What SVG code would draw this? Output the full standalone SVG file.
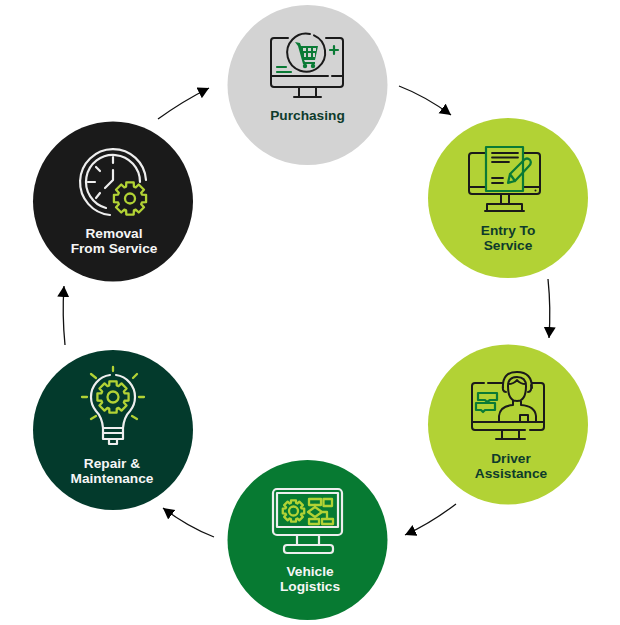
<svg xmlns="http://www.w3.org/2000/svg" width="620" height="625" viewBox="0 0 620 625">
<style>
.lbl{font-family:"Liberation Sans",Arial,sans-serif;font-weight:700;font-size:13.7px;text-anchor:middle}
.dk{fill:#0e3b2c}.wh{fill:#f6f6f6}
.k,.g,.w,.l{fill:none;stroke-linecap:round;stroke-linejoin:round}
.k{stroke:#1a1a1a;stroke-width:2}.g{stroke:#0a7a35;stroke-width:2.2}.w{stroke:#eeeeee;stroke-width:2.2}.l{stroke:#b2d235;stroke-width:2.3}
.conn{fill:none;stroke:#111;stroke-width:1.3}
</style>
<defs>
<marker id="arr" markerUnits="userSpaceOnUse" markerWidth="13" markerHeight="13" refX="11" refY="6" orient="auto"><path d="M0 0L11 6L0 12z" fill="#000"/></marker>
<path id="gear" vector-effect="non-scaling-stroke" d="M7.23-2.35L9.74-2.25L9.74 2.25L7.23 2.35L6.77 3.45L8.48 5.30L5.30 8.48L3.45 6.77L2.35 7.23L2.25 9.74L-2.25 9.74L-2.35 7.23L-3.45 6.77L-5.30 8.48L-8.48 5.30L-6.77 3.45L-7.23 2.35L-9.74 2.25L-9.74-2.25L-7.23-2.35L-6.77-3.45L-8.48-5.30L-5.30-8.48L-3.45-6.77L-2.35-7.23L-2.25-9.74L2.25-9.74L2.35-7.23L3.45-6.77L5.30-8.48L8.48-5.30L6.77-3.45z"/>
</defs>
<rect width="620" height="625" fill="#ffffff"/>
<g id="connectors">
<path class="conn" marker-end="url(#arr)" d="M399 86Q425 96 451 115"/>
<path class="conn" marker-end="url(#arr)" d="M548 279Q551 308 549 338"/>
<path class="conn" marker-end="url(#arr)" d="M456 504Q431 523 405 535"/>
<path class="conn" marker-end="url(#arr)" d="M214 537Q188 527 163 508"/>
<path class="conn" marker-end="url(#arr)" d="M65 345Q62 315 64 286"/>
<path class="conn" marker-end="url(#arr)" d="M158 119Q183 101 209 88"/>
</g>
<g id="purchasing">
<circle cx="307.500" cy="85" r="80" fill="#d3d3d3"/>
<path class="k" d="M288 38H274Q271 38 271 41V84Q271 87 274 87H340Q343 87 343 84V41Q343 38 340 38H326M271 76H328M332 76H343M299 87V97M316 87V97M294 97H321"/>
<path class="k" d="M310 34A19 19 0 1 0 314 35.300"/>
<path class="g" d="M334 46V54M330 50H338M277 67H286M277 72H291"/>
<path fill="#0a7a35" d="M295 42L300 43L301 46H318L315 60H304L305 62H315V64H303L298 46Z"/>
<path fill="#d3d3d3" d="M303 48H306V51H303ZM308 48H311V51H308ZM313 48H316V51H313ZM304 53H306V57H304ZM308 53H311V57H308ZM313 53H315V57H313Z"/>
<circle cx="305" cy="66" r="2.200" fill="#0a7a35"/><circle cx="313" cy="66" r="2.200" fill="#0a7a35"/>
<text class="lbl dk" x="307.500" y="120">Purchasing</text>
</g>
<g id="entry-to-service">
<circle cx="508" cy="198" r="80" fill="#b2d235"/>
<path class="k" d="M486 153H472Q469 153 469 156V191Q469 194 472 194H537Q540 194 540 191V156Q540 153 537 153H523M469 187H486M523 187H540M501 194V204M509 194V204M487 204H522V211H487ZM485 211H524"/>
<rect class="g" x="486" y="147" width="37" height="44"/>
<path class="k" style="stroke-width:1.8" d="M492 153H518M492 157.500H518M492 162H509M492 178H503M492 183H503"/>
<path class="g" d="M508 183L510 174L524 160Q527 157 530 160Q532 163 529 166L515 181Z M510 174L515 181"/>
<circle cx="535.500" cy="190.500" r="1" fill="#1a1a1a"/>
<text class="lbl dk"><tspan x="508" y="235">Entry To</tspan><tspan x="508" y="250">Service</tspan></text>
</g>
<g id="driver-assistance">
<circle cx="508" cy="424.500" r="80" fill="#b2d235"/>
<path class="k" d="M484 383H475Q472 383 472 386V427Q472 430 475 430H525M530 430H541Q544 430 544 427V386Q544 383 541 383H532M488 383H503M472 422H544M502 430V439M519 430V439M496 439H525"/>
<path class="k" d="M508 386Q508 377 517 377Q526 377 526 386Q526 401 517 401Q508 401 508 386ZM508 384Q514 384 517 380Q520 384 526 384M503 388Q502 372 517 372Q532 372 532 388M503 385Q502 392 506 392M531 385Q532 392 528 392M513 400V405Q500 406 499 416V422M521 400V405Q535 406 536 416V422M520 422V415H528V422"/>
<path class="g" d="M478 393H497V400H490L487 402L485 400H478ZM476 403H495V410H485L483 412L481 410H476Z"/>
<text class="lbl dk"><tspan x="511" y="463">Driver</tspan><tspan x="511" y="478">Assistance</tspan></text>
</g>
<g id="vehicle-logistics">
<circle cx="307.500" cy="540" r="80" fill="#077a32"/>
<rect class="w" x="273" y="489" width="69" height="46" rx="4"/>
<rect class="w" x="277" y="493" width="61" height="34"/>
<path class="w" d="M297 535V545M319 535V545"/>
<rect class="w" x="284" y="545" width="49" height="8" rx="3"/>
<use href="#gear" class="l" transform="translate(293.500 511) scale(1.1)"/>
<circle class="l" cx="293.500" cy="511" r="4.500"/>
<g id="flow"><rect class="l" x="309" y="499" width="12" height="6"/><rect class="l" x="323.500" y="499" width="8.500" height="7"/><path class="l" d="M315 505V507L322 512L315 517L308 512L315 507M315 517V519M322 512H327V518"/><rect class="l" x="309" y="519" width="10" height="5"/><rect class="l" x="322" y="519" width="11" height="5"/></g>
<text class="lbl wh"><tspan x="310" y="576">Vehicle</tspan><tspan x="310" y="591">Logistics</tspan></text>
</g>
<g id="repair-maintenance">
<circle cx="113" cy="430" r="80" fill="#033a2c"/>
<path class="w" d="M116 375A22 22 0 0 1 135 397Q135 405 130 411Q124 417 123 428M110 375A22 22 0 0 0 91 397Q91 405 96 411Q102 417 103 428M103 428H123V433H103ZM103 433V439H123V433M109 439V444H117V439"/>
<use href="#gear" class="l" transform="translate(113 397) scale(1.6)"/>
<circle class="l" cx="113" cy="397" r="5.500"/>
<path class="l" d="M113 367V371M91 374L96 378M137 374L133 378M82 397H87M139 397H144M91 419L96 416M132 416L137 419"/>
<text class="lbl wh"><tspan x="112" y="468">Repair &amp;</tspan><tspan x="112" y="483">Maintenance</tspan></text>
</g>
<g id="removal-from-service">
<circle cx="113" cy="201.500" r="80" fill="#1a1a1a"/>
<path class="w" d="M146 180A33 33 0 1 0 110 215"/>
<path class="w" d="M140 182A27 27 0 1 0 106 208M113 157V163M96 167L100 171M88 182H95M96 198L100 193M113 170V180L105 188"/>
<use href="#gear" class="l" transform="translate(130 198.500) scale(1.65)"/>
<circle class="l" cx="130" cy="198.500" r="5"/>
<text class="lbl wh"><tspan x="114" y="238">Removal</tspan><tspan x="114" y="253">From Service</tspan></text>
</g>
</svg>
